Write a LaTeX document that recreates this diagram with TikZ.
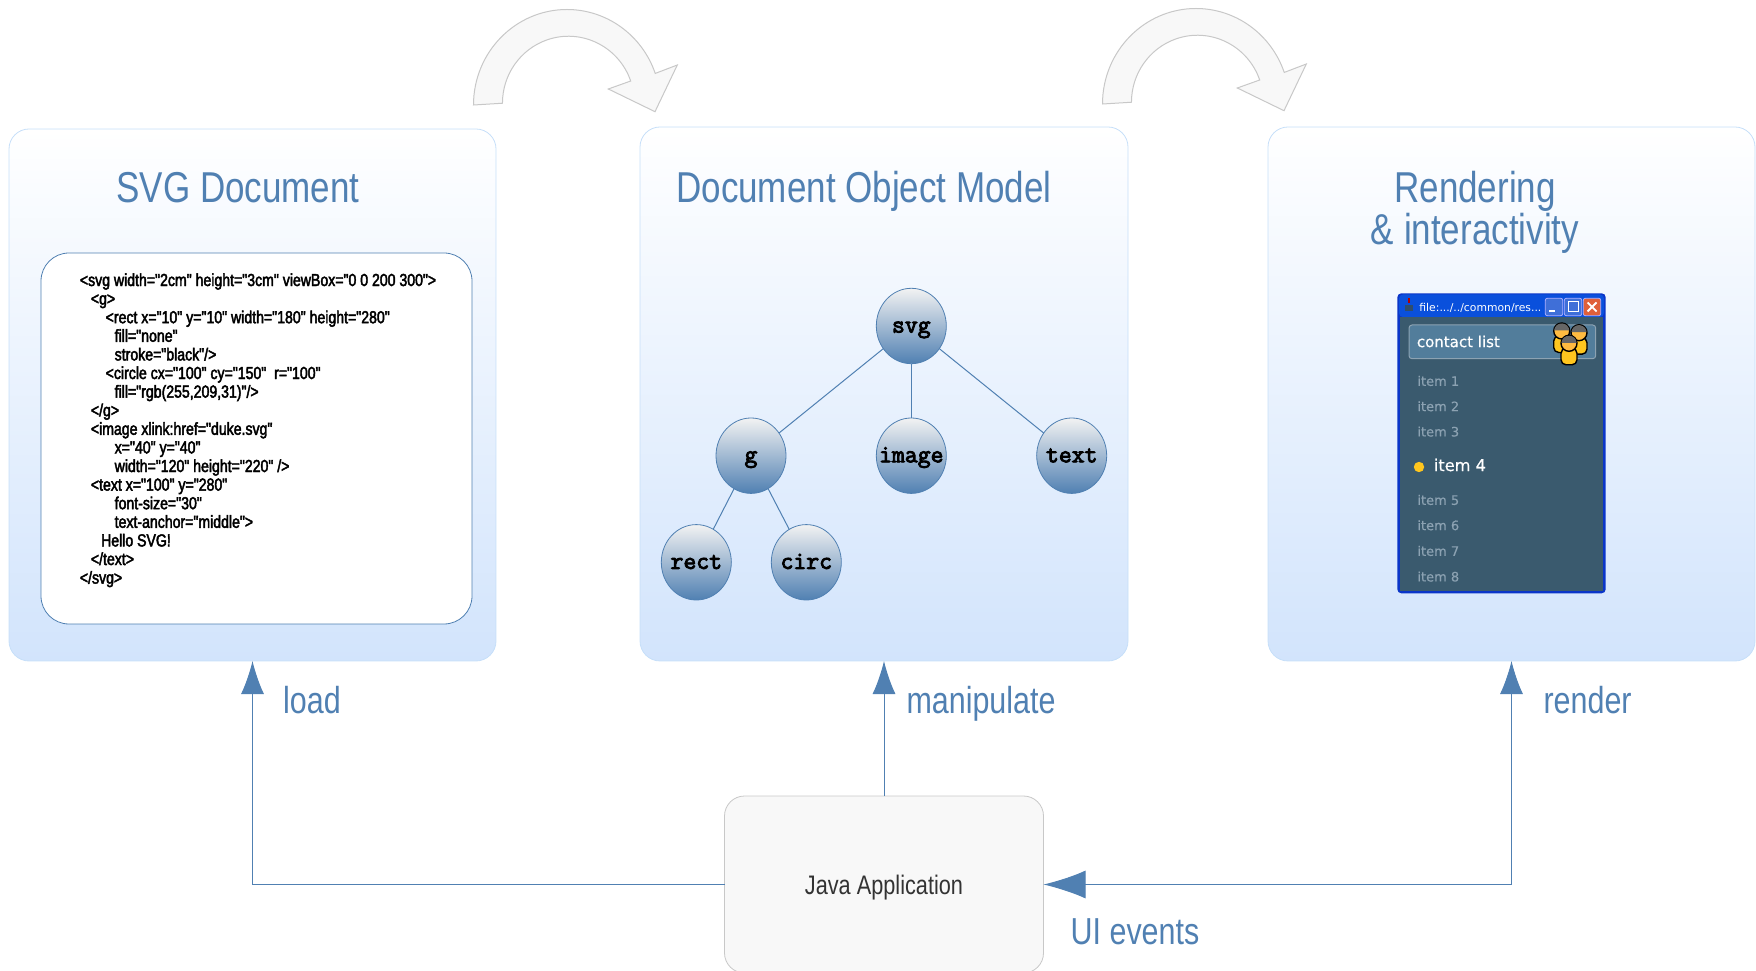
\documentclass[tikz,border=0pt]{standalone}
\usepackage{fontspec}
\usetikzlibrary{arrows.meta}
\usetikzlibrary{shapes.geometric}
\setmainfont[FakeStretch=0.81]{Liberation Sans}
\newfontfamily\codefont[FakeStretch=0.81,FakeBold=2.5]{Liberation Sans}
\newfontfamily\treefont[FakeBold=3.5]{Latin Modern Mono}
\newfontfamily\winfont{DejaVu Sans}
\newfontfamily\winfontb[FakeBold=0.4]{DejaVu Sans}
\newcommand{\treelabel}[1]{\makebox[0pt]{#1}}
\definecolor{steel}{HTML}{5080B2}
\definecolor{panelline}{HTML}{C6DFF9}
\definecolor{panelbottom}{HTML}{D2E4FC}
\definecolor{greyfill}{HTML}{F8F8F8}
\definecolor{greyline}{HTML}{C8C8C8}
\definecolor{winblue}{HTML}{0A35C8}
\definecolor{winbar}{HTML}{0A50DC}
\definecolor{winbody}{HTML}{3A5A6E}
\definecolor{winhead}{HTML}{527D9B}
\definecolor{winitem}{HTML}{8CA2B2}
\definecolor{winbutton}{HTML}{3F6FD8}
\definecolor{winclose}{HTML}{E0603A}
\definecolor{amber}{HTML}{FFC61E}
\tikzset{
  panel/.style={draw=panelline, rounded corners=10pt, top color=white, bottom color=panelbottom,
    minimum width=243.5pt, minimum height=267pt, inner sep=0, outer sep=0},
  paneltitle/.style={text=steel, align=center, inner sep=0, font=\fontsize{21.6}{21.3}\selectfont},
  linklabel/.style={anchor=base, text=steel, inner sep=0, font=\fontsize{18.8}{22}\selectfont},
  treenode/.style={draw=steel, ellipse, top color=gray!10, bottom color=steel, minimum width=35pt,
    minimum height=37.7pt, inner sep=0, outer sep=0, text height=7pt, text depth=.4pt,
    font=\treefont\fontsize{12.5}{12}\selectfont},
  winitemlabel/.style={anchor=west, inner sep=0, text=winitem, font=\winfontb\fontsize{6.5}{8}\selectfont},
  link/.style={steel, line width=.5pt},
  smalltip/.style={>={Latex[length=16.5pt,width=11.5pt]}},
}
\begin{document}
\begin{tikzpicture}[x=.5pt, y=.5pt]
\useasboundingbox (0,0) rectangle (1756,970);
% curved arrows on top
\foreach \dx/\dy in {0/0,629/1} {
\filldraw[fill=greyfill, draw=greyline, line width=.5pt, shift={(\dx,\dy)}]
  (473.5,865) arc[start angle=180, end angle=19.3, x radius=93.5, y radius=95.5]
  -- (677.3,905) -- (655,858.3) -- (608.3,881) -- (630.7,889)
  arc[start angle=19.4, end angle=180, x radius=66, y radius=67] -- cycle;
}
% the three panels
\node[panel, minimum height=266pt] (svgdoc) at (252.5,575) {};
\node[panel, minimum width=244pt] (dom) at (884,576) {};
\node[panel] (render) at (1511.5,576) {};
\node[paneltitle, anchor=base] (svgtitle) at (238,767) {SVG Document};
\node[paneltitle, anchor=base] (domtitle) at (864,767) {Document Object Model};
\node[paneltitle] (rendertitle) at (1475,757.5) {Rendering\\\& interactivity};
% source text
\node[draw=steel, fill=white, rounded corners=14pt, minimum width=215.5pt, minimum height=185.5pt,
  inner sep=0, outer sep=0] (codebox) at (256.5,531.5) {};
\node[anchor=north west, inner sep=0, align=left, font=\codefont\fontsize{8.7}{9.3}\selectfont] (code) at (79.5,697) {
<svg width="2cm" height="3cm" viewBox="0 0 200 300">\\
\hspace*{5.5pt}<g>\\
\hspace*{12.9pt}<rect x="10" y="10" width="180" height="280"\\
\hspace*{17.4pt}fill="none"\\
\hspace*{17.4pt}stroke="black"/>\\
\hspace*{12.9pt}<circle cx="100" cy="150"\ \ r="100"\\
\hspace*{17.4pt}fill="rgb(255,209,31)"/>\\
\hspace*{5.5pt}</g>\\
\hspace*{5.5pt}<image xlink:href="duke.svg"\\
\hspace*{17.4pt}x="40" y="40"\\
\hspace*{17.4pt}width="120" height="220" />\\
\hspace*{5.5pt}<text x="100" y="280"\\
\hspace*{17.4pt}font-size="30"\\
\hspace*{17.4pt}text-anchor="middle">\\
\hspace*{10.6pt}Hello SVG!\\
\hspace*{5.5pt}</text>\\
</svg>};
% tree
\node[treenode] (svg) at (911.3,644) {\treelabel{svg}};
\node[treenode] (g) at (751,514.3) {\treelabel{g}};
\node[treenode] (image) at (911.3,514.3) {\treelabel{image}};
\node[treenode] (text) at (1071.7,514.3) {\treelabel{text}};
\node[treenode] (rect) at (696.3,407.7) {\treelabel{rect}};
\node[treenode] (circ) at (806.3,407.7) {\treelabel{circ}};
\draw[link] (svg)--(g);
\draw[link] (svg)--(image);
\draw[link] (svg)--(text);
\draw[link] (g)--(rect);
\draw[link] (g)--(circ);
% application window
\fill[winblue, rounded corners=2pt] (1397.3,376.7) rectangle (1605.7,676.7);
\fill[winbar, rounded corners=2pt] (1399,653) rectangle (1604,675.5);
\fill[winbody] (1400,379) rectangle (1603,653);
\node[anchor=west, inner sep=0, text=white, font=\winfont\fontsize{5.4}{7}\selectfont] (wintitle) at (1419,662.5) {file:.../../common/res...};
% title icon
\fill[red!70!black] (1408,667) rectangle (1410,672);
\fill[steel!60!black] (1405,659) rectangle (1413,665);
% title buttons
\foreach \bx/\bcol in {1545.3/winbutton, 1564.3/winbutton, 1583.3/winclose} {
\filldraw[fill=\bcol, draw=white!70!blue, line width=.4pt, rounded corners=1pt] (\bx,654.3) rectangle ++(17.4,17.4);
}
\fill[white] (1549,657.5) rectangle ++(6,2.5);
\draw[white, line width=.5pt] (1568,658) rectangle ++(10,10);
\draw[white, line width=.9pt] (1587.5,658.5) --++(9,9) (1587.5,667.5) --++(9,-9);
% contact bar
\filldraw[fill=winhead, draw=winitem, line width=.5pt, rounded corners=1.5pt] (1409,611.3) rectangle (1595.7,645);
\node[anchor=west, inner sep=0, text=white, font=\winfontb\fontsize{7.5}{9}\selectfont] (contact) at (1416.5,628.5) {contact list};
\foreach \hx/\hy in {1561.7/639, 1579/637.3, 1569/626.7} {
\filldraw[fill=amber, draw=black, line width=.7pt, rounded corners=2.5pt] (\hx-8,\hy-21.5) rectangle (\hx+8,\hy-5);
\filldraw[fill=amber!60!orange!80!white, draw=black, line width=.7pt] (\hx,\hy) circle (8);
\fill[black!60] (\hx-7.6,\hy+.5) arc[start angle=176, end angle=4, radius=7.6] -- cycle;
}
% menu items
\foreach \n/\y in {1/589, 2/563.7, 3/538.4, 5/470, 6/444.7, 7/419, 8/393.4} {
\node[winitemlabel] (item\n) at (1417,\y) {item \n};
}
\fill[amber] (1419,503) circle (5.2);
\node[winitemlabel, text=white, font=\winfontb\fontsize{8.1}{10}\selectfont] (item4) at (1433.5,505) {item 4};
% application and links
\node[draw=greyline, fill=greyfill, rounded corners=10pt, minimum width=159.5pt, minimum height=88.5pt,
  inner sep=0, outer sep=0, text=black!80, text depth=0pt, font=\fontsize{13.4}{16}\selectfont] (java) at (884,85.5) {Java Application};
\draw[link, smalltip, ->] (java.west) -| (svgdoc.south);
\draw[link, smalltip, ->] (java.north) -- (dom.south);
\draw[link, {Latex[length=21pt,width=14pt]}-{Latex[length=16.5pt,width=11.5pt]}] (java.east) -| (render.south);
\node[linklabel] (load) at (312,256.5) {load};
\node[linklabel] (manipulate) at (981,256.5) {manipulate};
\node[linklabel] (renderlabel) at (1587.6,256.5) {render};
\node[linklabel] (uievents) at (1135,25.5) {UI events};
\end{tikzpicture}
\end{document}
